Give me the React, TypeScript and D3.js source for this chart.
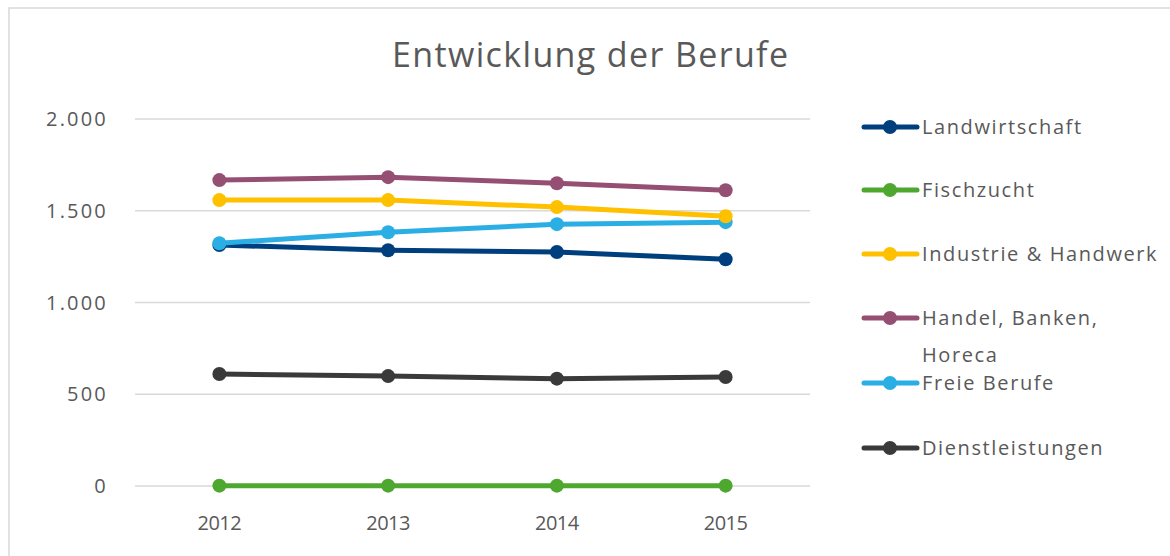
import * as d3 from "d3"
import { useEffect, useRef } from "react"

const YEARS = ["2012", "2013", "2014", "2015"]
const SERIES_NAMES = [
  "Landwirtschaft",
  "Fischzucht",
  "Industrie & Handwerk",
  "Handel, Banken, Horeca",
  "Freie Berufe",
  "Dienstleistungen",
]
const LANDWIRTSCHAFT = [1313, 1285, 1275, 1236]
const FISCHZUCHT = [2, 2, 2, 2]
const INDUSTRIE = [1558, 1558, 1520, 1470]
const HANDEL = [1667, 1683, 1650, 1612]
const FREIE = [1323, 1383, 1427, 1438]
const DIENST = [610, 599, 585, 594]
const Y_TICKS = [0, 500, 1000, 1500, 2000]
const COLORS = ["#003f7d", "#4ea72e", "#ffc000", "#954f72", "#2aaee4", "#3a3a3a"]

const WIDTH = 1170
const HEIGHT = 556
const FONT = "'Open Sans', 'Noto Sans', sans-serif"

const App = () => {
  const svgRef = useRef<SVGSVGElement>(null)

  useEffect(() => {
    if (!svgRef.current) return
    const svg = d3.select(svgRef.current)
    svg.selectAll("*").remove()

    const data = [LANDWIRTSCHAFT, FISCHZUCHT, INDUSTRIE, HANDEL, FREIE, DIENST]

    // frame
    svg
      .append("rect")
      .attr("x", 9)
      .attr("y", 8)
      .attr("width", WIDTH)
      .attr("height", HEIGHT)
      .attr("fill", "#fff")
      .attr("stroke", "#d9d9d9")
      .attr("stroke-width", 1.5)

    svg
      .append("text")
      .attr("x", 590)
      .attr("y", 67)
      .attr("text-anchor", "middle")
      .attr("font-family", FONT)
      .attr("font-size", 34)
      .attr("fill", "#595959")
      .attr("textLength", 396)
      .text("Entwicklung der Berufe")

    const xScale = d3.scaleBand().domain(YEARS).range([135, 810])
    const yScale = d3.scaleLinear().domain([0, 2000]).range([486, 119])
    const cx = (y: string) => (xScale(y) ?? 0) + xScale.bandwidth() / 2

    // gridlines
    svg
      .append("g")
      .selectAll("line")
      .data(Y_TICKS)
      .join("line")
      .attr("x1", 135)
      .attr("x2", 810)
      .attr("y1", (d) => yScale(d))
      .attr("y2", (d) => yScale(d))
      .attr("stroke", "#d9d9d9")
      .attr("stroke-width", 1.5)

    svg
      .append("g")
      .selectAll("text")
      .data(Y_TICKS)
      .join("text")
      .attr("x", 108)
      .attr("y", (d) => yScale(d))
      .attr("dy", "0.35em")
      .attr("text-anchor", "end")
      .attr("font-family", FONT)
      .attr("font-size", 20)
      .attr("letter-spacing", 2.2)
      .attr("fill", "#595959")
      .text((d) => d3.format(",")(d).replace(",", "."))

    svg
      .append("g")
      .selectAll("text")
      .data(YEARS)
      .join("text")
      .attr("x", (d) => cx(d))
      .attr("y", 523)
      .attr("dy", "0.35em")
      .attr("text-anchor", "middle")
      .attr("font-family", FONT)
      .attr("font-size", 20)
      .attr("letter-spacing", -0.5)
      .attr("fill", "#595959")
      .text((d) => d)

    const line = d3
      .line<number>()
      .x((_, i) => cx(YEARS[i]))
      .y((d) => yScale(d))

    // draw in order so later series sit on top
    const drawOrder = [0, 4, 1, 2, 3, 5]
    drawOrder.forEach((s) => {
      const g = svg.append("g")
      g.append("path")
        .datum(data[s])
        .attr("fill", "none")
        .attr("stroke", COLORS[s])
        .attr("stroke-width", 5)
        .attr("stroke-linejoin", "round")
        .attr("d", line)
      g.selectAll("circle")
        .data(data[s])
        .join("circle")
        .attr("cx", (_, i) => cx(YEARS[i]))
        .attr("cy", (d) => yScale(d))
        .attr("r", 7)
        .attr("fill", COLORS[s])
    })

    // legend
    const legendY = [127, 190, 254, 318, 383, 448]
    const legend = svg.append("g")
    const legendText = (y: number, label: string) =>
      legend
        .append("text")
        .attr("x", 922)
        .attr("y", y)
        .attr("dy", "0.35em")
        .attr("font-family", FONT)
        .attr("font-size", 20)
        .attr("letter-spacing", 1.6)
        .attr("fill", "#595959")
        .text(label)
    SERIES_NAMES.forEach((name, i) => {
      const y = legendY[i]
      legend
        .append("line")
        .attr("x1", 864)
        .attr("x2", 917)
        .attr("y1", y)
        .attr("y2", y)
        .attr("stroke", COLORS[i])
        .attr("stroke-width", 5)
        .attr("stroke-linecap", "round")
      legend
        .append("circle")
        .attr("cx", 890)
        .attr("cy", y)
        .attr("r", 7)
        .attr("fill", COLORS[i])
      if (name === "Handel, Banken, Horeca") {
        legendText(y, "Handel, Banken,")
        legendText(y + 37, "Horeca")
      } else {
        legendText(y, name)
      }
    })
  }, [])

  return (
    <svg
      ref={svgRef}
      width={WIDTH}
      height={HEIGHT}
      style={{ position: "absolute", left: 0, top: 0, display: "block" }}
    />
  )
}

export default App
